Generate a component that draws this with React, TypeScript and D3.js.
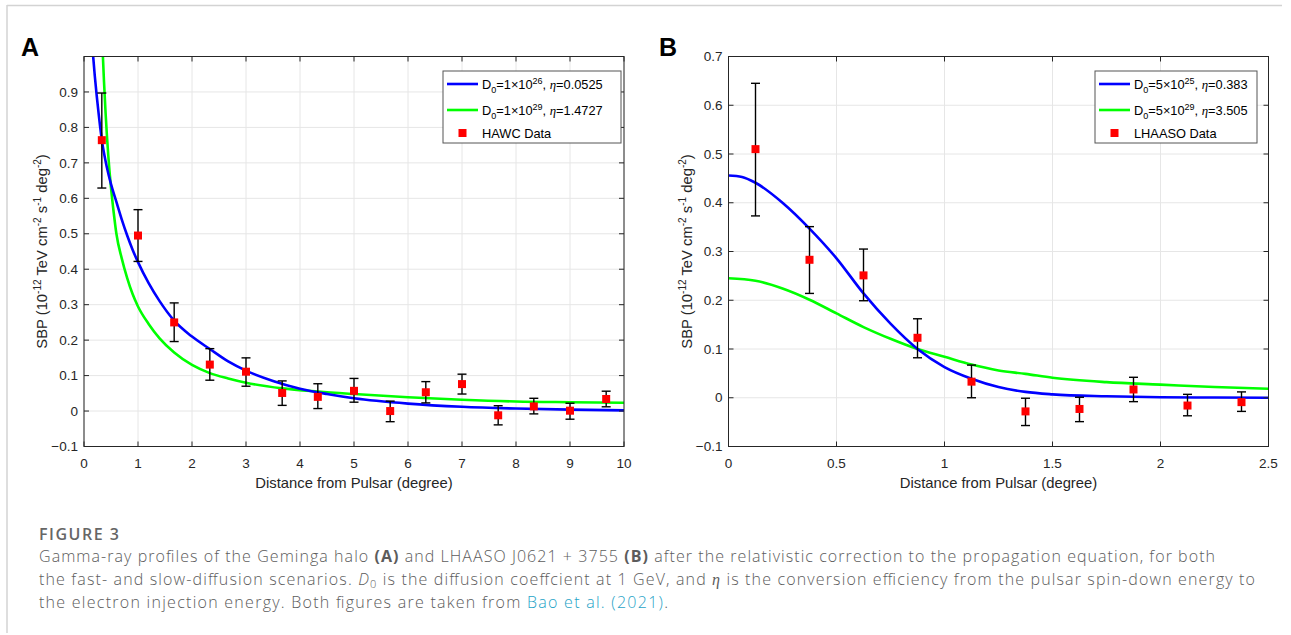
import React from 'react';
import * as d3 from 'd3';

const W = 1291;
const H = 635;

// ---------- Panel A (HAWC, Geminga halo) ----------
const hawcX = [0.33, 1.0, 1.67, 2.33, 3.0, 3.67, 4.33, 5.0, 5.67, 6.33, 7.0, 7.67, 8.33, 9.0, 9.67];
const hawcY = [0.764, 0.495, 0.25, 0.131, 0.111, 0.051, 0.04, 0.057, 0.0, 0.053, 0.076, -0.012, 0.013, 0.001, 0.034];
const hawcLo = [0.629, 0.422, 0.196, 0.087, 0.07, 0.016, 0.007, 0.025, -0.03, 0.023, 0.048, -0.039, -0.008, -0.023, 0.012];
const hawcHi = [0.897, 0.568, 0.305, 0.176, 0.15, 0.085, 0.077, 0.092, 0.028, 0.083, 0.104, 0.015, 0.036, 0.022, 0.056];

const fitA1X = [0.17, 0.2, 0.235, 0.27, 0.3, 0.33, 0.38, 0.42, 0.5, 0.6, 0.7, 0.8, 0.9, 1.0, 1.2, 1.4, 1.67, 2.0, 2.33, 2.67, 3.0, 3.5, 4.0, 4.5, 5.0, 6.0, 7.0, 8.0, 9.0, 10.0];
const fitA1Y = [1.0, 0.945, 0.89, 0.84, 0.8, 0.765, 0.72, 0.69, 0.64, 0.59, 0.54, 0.495, 0.455, 0.42, 0.36, 0.31, 0.255, 0.21, 0.175, 0.14, 0.114, 0.085, 0.063, 0.048, 0.036, 0.021, 0.012, 0.007, 0.004, 0.002];

const fitA2X = [0.35, 0.37, 0.4, 0.45, 0.5, 0.55, 0.6, 0.7, 0.8, 0.9, 1.0, 1.2, 1.4, 1.67, 2.0, 2.33, 2.67, 3.0, 3.67, 4.33, 5.0, 6.0, 7.0, 8.0, 9.0, 10.0];
const fitA2Y = [1.0, 0.93, 0.84, 0.72, 0.63, 0.56, 0.5, 0.43, 0.375, 0.33, 0.295, 0.245, 0.205, 0.165, 0.13, 0.107, 0.092, 0.08, 0.064, 0.055, 0.048, 0.039, 0.032, 0.027, 0.025, 0.0235];

const xTicksA = [0, 1, 2, 3, 4, 5, 6, 7, 8, 9, 10];
const yTicksA = [-0.1, 0, 0.1, 0.2, 0.3, 0.4, 0.5, 0.6, 0.7, 0.8, 0.9];

// ---------- Panel B (LHAASO J0621+3755) ----------
const lhaasoX = [0.125, 0.375, 0.625, 0.875, 1.125, 1.375, 1.625, 1.875, 2.125, 2.375];
const lhaasoY = [0.51, 0.283, 0.251, 0.123, 0.033, -0.028, -0.023, 0.017, -0.016, -0.009];
const lhaasoLo = [0.373, 0.214, 0.199, 0.082, 0.0, -0.057, -0.049, -0.008, -0.037, -0.028];
const lhaasoHi = [0.645, 0.351, 0.305, 0.162, 0.067, -0.001, 0.001, 0.042, 0.007, 0.012];

const fitB1X = [0, 0.0625, 0.125, 0.25, 0.375, 0.5, 0.625, 0.75, 0.875, 1.0, 1.125, 1.25, 1.375, 1.5, 1.75, 2.0, 2.25, 2.5];
const fitB1Y = [0.456, 0.453, 0.441, 0.4, 0.347, 0.286, 0.214, 0.152, 0.1, 0.063, 0.039, 0.022, 0.012, 0.007, 0.003, 0.001, 0.0005, 0.0];

const fitB2X = [0, 0.125, 0.25, 0.375, 0.5, 0.625, 0.75, 0.875, 1.0, 1.125, 1.25, 1.375, 1.5, 1.75, 2.0, 2.25, 2.5];
const fitB2Y = [0.245, 0.24, 0.224, 0.201, 0.173, 0.145, 0.121, 0.1, 0.084, 0.068, 0.056, 0.049, 0.041, 0.032, 0.027, 0.022, 0.0185];

const xTicksB = [0, 0.5, 1, 1.5, 2, 2.5];
const yTicksB = [-0.1, 0, 0.1, 0.2, 0.3, 0.4, 0.5, 0.6, 0.7];

const legendA = [
  { base: '1', exp: '26', eta: '0.0525' },
  { base: '1', exp: '29', eta: '1.4727' },
];
const legendB = [
  { base: '5', exp: '25', eta: '0.383' },
  { base: '5', exp: '29', eta: '3.505' },
];

const BLUE = '#0000ff';
const GREEN = '#00ff00';
const RED = '#ff0000';
const AX = '#262626';
const FONT = '"Liberation Sans", Arial, Helvetica, sans-serif';

type PanelProps = {
  id: string;
  letter: string;
  letterX: number;
  x0: number;
  x1: number;
  xDomain: [number, number];
  yDomain: [number, number];
  xTicks: number[];
  yTicks: number[];
  blueX: number[];
  blueY: number[];
  greenX: number[];
  greenY: number[];
  px: number[];
  py: number[];
  plo: number[];
  phi: number[];
  legend: { base: string; exp: string; eta: string }[];
  dataName: string;
  legX0: number;
  legX1: number;
  yLabelX: number;
};

const TOP = 56.5;
const BOTTOM = 446.5;
const fmt = d3.format('.1~f');

function Panel(p: PanelProps) {
  const x = d3.scaleLinear().domain(p.xDomain).range([p.x0, p.x1]);
  const y = d3.scaleLinear().domain(p.yDomain).range([BOTTOM, TOP]);
  const line = d3
    .line<[number, number]>()
    .x((d) => x(d[0]))
    .y((d) => y(d[1]))
    .curve(d3.curveMonotoneX);
  const blue = line(p.blueX.map((v, i) => [v, p.blueY[i]] as [number, number])) || '';
  const green = line(p.greenX.map((v, i) => [v, p.greenY[i]] as [number, number])) || '';
  const tl = 5;
  const legTop = 71;
  const legBottom = 143;
  const rows = [84, 110, 133];
  const lineStart = p.legX0 + 4;
  const lineEnd = p.legX0 + 35;
  const textX = p.legX0 + 39;
  const yMid = (TOP + BOTTOM) / 2;
  return (
    <g>
      <defs>
        <clipPath id={`clip-${p.id}`}>
          <rect x={p.x0} y={TOP} width={p.x1 - p.x0} height={BOTTOM - TOP} />
        </clipPath>
      </defs>
      <rect x={p.x0} y={TOP} width={p.x1 - p.x0} height={BOTTOM - TOP} fill="#ffffff" />
      {p.xTicks.map((t) => (
        <line key={`gx${t}`} x1={x(t)} x2={x(t)} y1={TOP} y2={BOTTOM} stroke="#e6e6e6" strokeWidth={1} />
      ))}
      {p.yTicks.map((t) => (
        <line key={`gy${t}`} x1={p.x0} x2={p.x1} y1={y(t)} y2={y(t)} stroke="#e6e6e6" strokeWidth={1} />
      ))}
      <g clipPath={`url(#clip-${p.id})`}>
        <path d={green} fill="none" stroke={GREEN} strokeWidth={2.6} />
        <path d={blue} fill="none" stroke={BLUE} strokeWidth={2.6} />
      </g>
      {p.px.map((v, i) => (
        <g key={`eb${i}`} stroke="#000" strokeWidth={1.4}>
          <line x1={x(v)} x2={x(v)} y1={y(p.plo[i])} y2={y(p.phi[i])} />
          <line x1={x(v) - 4.5} x2={x(v) + 4.5} y1={y(p.plo[i])} y2={y(p.plo[i])} />
          <line x1={x(v) - 4.5} x2={x(v) + 4.5} y1={y(p.phi[i])} y2={y(p.phi[i])} />
        </g>
      ))}
      {p.px.map((v, i) => (
        <rect key={`pt${i}`} x={x(v) - 4} y={y(p.py[i]) - 4} width={8} height={8} fill={RED} />
      ))}
      <rect x={p.x0} y={TOP} width={p.x1 - p.x0} height={BOTTOM - TOP} fill="none" stroke={AX} strokeWidth={1} />
      {p.xTicks.map((t) => (
        <g key={`tx${t}`} stroke={AX} strokeWidth={1}>
          <line x1={x(t)} x2={x(t)} y1={BOTTOM} y2={BOTTOM - tl} />
          <line x1={x(t)} x2={x(t)} y1={TOP} y2={TOP + tl} />
        </g>
      ))}
      {p.yTicks.map((t) => (
        <g key={`ty${t}`} stroke={AX} strokeWidth={1}>
          <line x1={p.x0} x2={p.x0 + tl} y1={y(t)} y2={y(t)} />
          <line x1={p.x1} x2={p.x1 - tl} y1={y(t)} y2={y(t)} />
        </g>
      ))}
      {p.xTicks.map((t) => (
        <text key={`lx${t}`} x={x(t)} y={BOTTOM + 21} textAnchor="middle" fontFamily={FONT} fontSize={13.5} fill={AX}>
          {String(t)}
        </text>
      ))}
      {p.yTicks.map((t) => (
        <text key={`ly${t}`} x={p.x0 - 6} y={y(t) + 4.7} textAnchor="end" fontFamily={FONT} fontSize={13.5} fill={AX}>
          {fmt(t) === '-0' ? '0' : fmt(t)}
        </text>
      ))}
      <text x={(p.x0 + p.x1) / 2} y={BOTTOM + 41} textAnchor="middle" fontFamily={FONT} fontSize={14.8} fill={AX}>
        Distance from Pulsar (degree)
      </text>
      <text
        transform={`translate(${p.yLabelX},${yMid}) rotate(-90)`}
        textAnchor="middle"
        fontFamily={FONT}
        fontSize={14.8}
        fill={AX}
      >
        SBP (10<tspan fontSize={10} dy={-6}>-12</tspan>
        <tspan dy={6}> TeV cm</tspan>
        <tspan fontSize={10} dy={-6}>-2</tspan>
        <tspan dy={6}> s</tspan>
        <tspan fontSize={10} dy={-6}>-1</tspan>
        <tspan dy={6}> deg</tspan>
        <tspan fontSize={10} dy={-6}>-2</tspan>
        <tspan dy={6}>)</tspan>
      </text>
      <text x={p.letterX} y={56} fontFamily={FONT} fontWeight="bold" fontSize={25} fill="#000">
        {p.letter}
      </text>
      <rect x={p.legX0} y={legTop} width={p.legX1 - p.legX0} height={legBottom - legTop} fill="#ffffff" stroke="#555555" strokeWidth={1} />
      {p.legend.map((L, i) => (
        <g key={`lg${i}`}>
          <line x1={lineStart} x2={lineEnd} y1={rows[i]} y2={rows[i]} stroke={i === 0 ? BLUE : GREEN} strokeWidth={2.6} />
          <text x={textX} y={rows[i] + 4.5} fontFamily={FONT} fontSize={12.8} fill="#000">
            D<tspan fontSize={9} dy={4}>0</tspan>
            <tspan dy={-4}>={L.base}×10</tspan>
            <tspan fontSize={9} dy={-5}>{L.exp}</tspan>
            <tspan dy={5}>, </tspan>
            <tspan fontFamily='"Liberation Serif", "Times New Roman", serif' fontStyle="italic">η</tspan>
            <tspan>={L.eta}</tspan>
          </text>
        </g>
      ))}
      <rect x={(lineStart + lineEnd) / 2 - 4} y={rows[2] - 4} width={8} height={8} fill={RED} />
      <text x={textX} y={rows[2] + 4.5} fontFamily={FONT} fontSize={12.8} fill="#000">
        {p.dataName}
      </text>
    </g>
  );
}

const CAP_FONT = '"Open Sans", "Noto Sans", Lato, sans-serif';
const CAP_COLOR = '#5c5c5c';
const CAP_X = 39;

export default function App() {
  return (
    <svg
      width={W}
      height={H}
      style={{ position: 'absolute', left: 0, top: 0, background: '#ffffff' }}
      xmlns="http://www.w3.org/2000/svg"
    >
      <rect x={0} y={0} width={W} height={H} fill="#ffffff" />
      <line x1={7} x2={1282} y1={5.5} y2={5.5} stroke="#d3d3d3" strokeWidth={1.5} />
      <line x1={7} x2={7} y1={5} y2={633} stroke="#d3d3d3" strokeWidth={1.5} />

      <Panel
        id="a"
        letter="A"
        letterX={21}
        x0={84}
        x1={624}
        xDomain={[0, 10]}
        yDomain={[-0.1, 1.0]}
        xTicks={xTicksA}
        yTicks={yTicksA}
        blueX={fitA1X}
        blueY={fitA1Y}
        greenX={fitA2X}
        greenY={fitA2Y}
        px={hawcX}
        py={hawcY}
        plo={hawcLo}
        phi={hawcHi}
        legend={legendA}
        dataName="HAWC Data"
        legX0={443}
        legX1={621}
        yLabelX={46.5}
      />
      <Panel
        id="b"
        letter="B"
        letterX={659}
        x0={728.5}
        x1={1268.5}
        xDomain={[0, 2.5]}
        yDomain={[-0.1, 0.7]}
        xTicks={xTicksB}
        yTicks={yTicksB}
        blueX={fitB1X}
        blueY={fitB1Y}
        greenX={fitB2X}
        greenY={fitB2Y}
        px={lhaasoX}
        py={lhaasoY}
        plo={lhaasoLo}
        phi={lhaasoHi}
        legend={legendB}
        dataName="LHAASO Data"
        legX0={1095}
        legX1={1257}
        yLabelX={691.5}
      />

      <text x={CAP_X} y={540} fontFamily={CAP_FONT} fontSize={16} fontWeight={600} fill="#666666" textLength={80} lengthAdjust="spacing">
        FIGURE 3
      </text>
      <text
        x={CAP_X}
        y={562}
        fontFamily={CAP_FONT}
        fontSize={16}
        fontWeight={300}
        fill={CAP_COLOR}
        textLength={1176}
        lengthAdjust="spacing"
      >
        Gamma-ray profiles of the Geminga halo <tspan fontWeight="bold">(A)</tspan> and LHAASO J0621 + 3755{' '}
        <tspan fontWeight="bold">(B)</tspan> after the relativistic correction to the propagation equation, for both
      </text>
      <text
        x={CAP_X}
        y={585}
        fontFamily={CAP_FONT}
        fontSize={16}
        fontWeight={300}
        fill={CAP_COLOR}
        textLength={1216}
        lengthAdjust="spacing"
      >
        the fast- and slow-diffusion scenarios. <tspan fontStyle="italic">D</tspan>
        <tspan fontSize={11} dy={3}>0</tspan>
        <tspan dy={-3}> is the diffusion coeffcient at 1 GeV, and </tspan>
        <tspan fontStyle="italic" fontFamily='"Liberation Serif", serif'>η</tspan> is the conversion efficiency from the
        pulsar spin-down energy to
      </text>
      <text
        x={CAP_X}
        y={608}
        fontFamily={CAP_FONT}
        fontSize={16}
        fontWeight={300}
        fill={CAP_COLOR}
        textLength={629}
        lengthAdjust="spacing"
      >
        the electron injection energy. Both figures are taken from <tspan fill="#1fa3c7">Bao et al. (2021)</tspan>.
      </text>
    </svg>
  );
}
